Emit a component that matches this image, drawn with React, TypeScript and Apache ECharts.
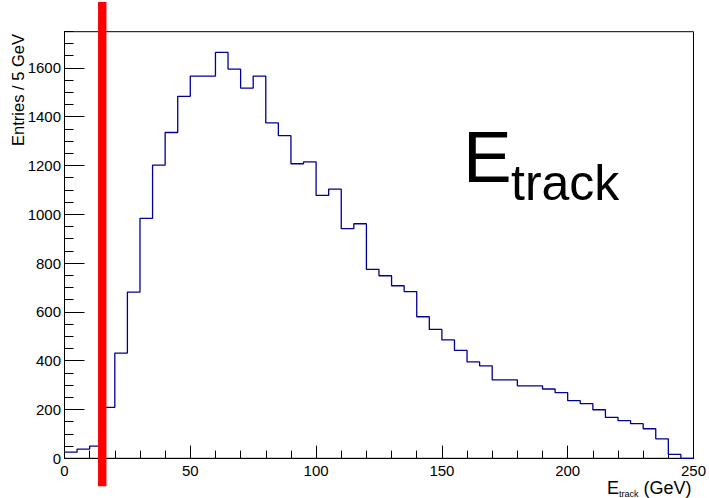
import React, { useEffect, useRef } from "react";
import * as echarts from "echarts";

// Histogram: E_track, 5 GeV bins from 0 to 250 GeV
const binWidth = 5;
const xMin = 0;
const xMax = 250;
const counts = [
  25, 38, 50, 209, 431, 681, 983, 1201, 1335, 1483,
  1566, 1566, 1663, 1595, 1517, 1566, 1374, 1322, 1207, 1215,
  1077, 1103, 941, 961, 774, 748, 707, 683, 580, 528,
  485, 442, 395, 379, 321, 321, 297, 297, 284, 269,
  236, 224, 199, 168, 154, 142, 121, 80, 16, 0,
];
const yMax = 1748;
const cutValue = 15;
const cutLineRange = [-115, 1870];

const FONT = "Liberation Sans, Arial, Helvetica, sans-serif";

export default function App() {
  const ref = useRef<HTMLDivElement>(null);
  useEffect(() => {
    document.body.style.margin = "0";
    const chart = echarts.init(ref.current!, null, { renderer: "svg" });
    const steps: number[][] = counts.map((c, i) => [xMin + i * binWidth, c]);
    steps.push([xMin + counts.length * binWidth, counts[counts.length - 1]]);

    chart.setOption({
      animation: false,
      grid: {
        left: 64.5,
        right: 15.5,
        top: 31.7,
        bottom: 39.7,
        show: true,
        borderColor: "#000",
        borderWidth: 1,
        backgroundColor: "transparent",
      },
      xAxis: {
        type: "value",
        min: xMin,
        max: xMax,
        interval: 50,
        axisLine: { onZero: false, lineStyle: { color: "#000", width: 1 } },
        axisTick: { inside: true, length: 12.7, lineStyle: { color: "#000" } },
        minorTick: { show: true, splitNumber: 5, length: 7.7, lineStyle: { color: "#000" } },
        splitLine: { show: false },
        minorSplitLine: { show: false },
        axisLabel: {
          color: "#000",
          fontFamily: FONT,
          fontSize: 15,
          margin: 5,
          formatter: (v: number) => String(v),
        },
      },
      yAxis: [
        {
          type: "value",
          min: 0,
          max: yMax,
          interval: 200,
          position: "left",
          axisLine: { show: true, onZero: false, lineStyle: { color: "#000", width: 1 } },
          axisTick: { show: true, inside: true, length: 20, lineStyle: { color: "#000" } },
          splitLine: { show: false },
          axisLabel: {
            color: "#000",
            fontFamily: FONT,
            fontSize: 15,
            margin: 3.5,
            showMaxLabel: false,
            formatter: (v: number) => String(v),
          },
        },
        {
          type: "value",
          min: 0,
          max: yMax,
          interval: 50,
          position: "left",
          axisLine: { show: false, onZero: false },
          axisTick: { show: true, inside: true, length: 9, lineStyle: { color: "#000" } },
          splitLine: { show: false },
          axisLabel: { show: false },
        },
      ],
      series: [
        {
          type: "line",
          step: "end",
          data: steps,
          symbol: "none",
          lineStyle: { color: "#000099", width: 1.3 },
          z: 3,
        },
        {
          type: "line",
          data: [
            [cutValue, cutLineRange[0]],
            [cutValue, cutLineRange[1]],
          ],
          clip: false,
          symbol: "none",
          lineStyle: { color: "#ff0000", width: 8.4 },
          z: 4,
        },
      ],
      graphic: [
        {
          type: "text",
          x: 463,
          y: 156.2,
          style: { text: "E", fontSize: 73, fontFamily: FONT, fill: "#000", align: "left", verticalAlign: "middle" },
        },
        {
          type: "text",
          x: 511,
          y: 182.7,
          style: { text: "track", fontSize: 50, fontFamily: FONT, fill: "#000", align: "left", verticalAlign: "middle" },
        },
        {
          type: "text",
          x: 607,
          y: 487.8,
          style: { text: "E", fontSize: 18, fontFamily: FONT, fill: "#000", align: "left", verticalAlign: "middle" },
        },
        {
          type: "text",
          x: 619,
          y: 494,
          style: { text: "track", fontSize: 9, fontFamily: FONT, fill: "#000", align: "left", verticalAlign: "middle" },
        },
        {
          type: "text",
          x: 643.5,
          y: 487.8,
          style: { text: "(GeV)", fontSize: 18, fontFamily: FONT, fill: "#000", align: "left", verticalAlign: "middle" },
        },
        {
          type: "text",
          x: 17.5,
          y: 90,
          rotation: Math.PI / 2,
          style: {
            text: "Entries / 5 GeV",
            fontSize: 16.5,
            fontFamily: FONT,
            fill: "#000",
            align: "center",
            verticalAlign: "middle",
          },
        },
      ],
    });
    return () => chart.dispose();
  }, []);
  return <div ref={ref} style={{ width: 709, height: 498 }} />;
}
